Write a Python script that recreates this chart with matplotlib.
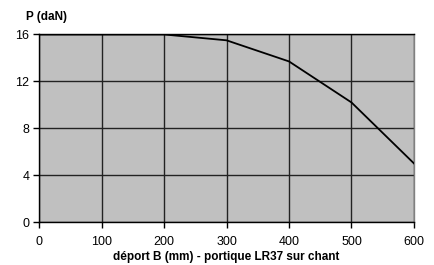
import matplotlib.pyplot as plt

plt.rcParams['font.family'] = ['Liberation Sans', 'DejaVu Sans']

deport = [0, 100, 200, 300, 400, 500, 600]
charge = [16, 16, 16, 15.5, 13.7, 10.2, 5.0]

fig = plt.figure(figsize=(4.35, 2.65), dpi=100)
ax = fig.add_axes([0.0897, 0.162, 0.862, 0.708])
ax.set_facecolor('#c0c0c0')

ax.plot(deport, charge, color='black', lw=1.3, zorder=3)

ax.set_xlim(0, 600)
ax.set_ylim(0, 16)
ax.set_xticks(range(0, 601, 100))
ax.set_yticks([0, 4, 8, 12, 16])
ax.grid(True, color='#222222', lw=1.0, zorder=1)
ax.set_axisbelow(True)
for s in ax.spines.values():
    s.set_color('#808080')
    s.set_linewidth(1.0)
ax.spines['top'].set_color('black')
ax.spines['left'].set_color('black')
ax.spines['bottom'].set_color('black')
ax.tick_params(direction='out', length=4, width=1, labelsize=9, pad=3)
ax.tick_params(axis='x', pad=6)

ax.set_xlabel('déport B (mm) - portique LR37 sur chant', fontsize=8.5,
              fontweight='bold', labelpad=2)
fig.text(0.108, 0.935, 'P (daN)', fontsize=8.5, fontweight='bold',
         ha='center', va='center')

fig.savefig('out.png', dpi=100)
